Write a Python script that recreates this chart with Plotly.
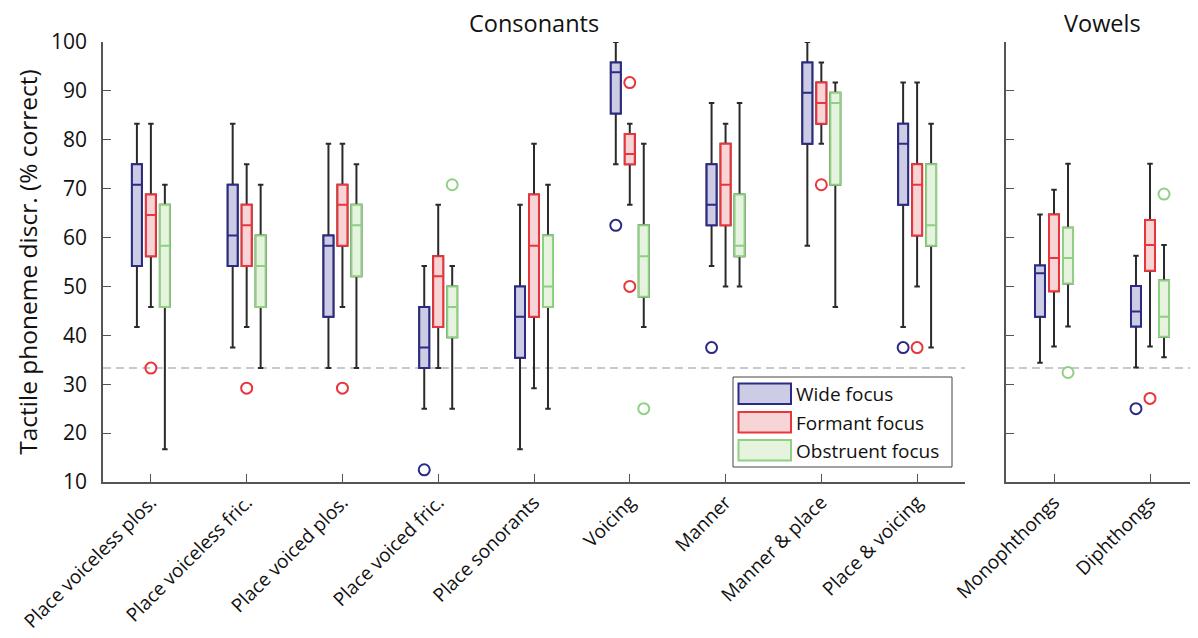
import plotly.graph_objects as go

# ---------------- data ----------------
categories = ["Place voiceless plos.", "Place voiceless fric.", "Place voiced plos.",
              "Place voiced fric.", "Place sonorants", "Voicing", "Manner",
              "Manner & place", "Place & voicing", "Monophthongs", "Diphthongs"]
n_consonants = 9  # first 9 categories are consonants, rest vowels

series_names = ["Wide focus", "Formant focus", "Obstruent focus"]

wide_lo  = [41.7, 37.5, 33.3, 25.0, 16.7, 75.0, 54.2, 58.3, 41.7, 34.4, 33.4]
wide_q1  = [54.2, 54.2, 43.8, 33.3, 35.4, 85.4, 62.5, 79.2, 66.7, 43.8, 41.8]
wide_med = [70.8, 60.4, 58.3, 37.5, 43.8, 93.8, 66.7, 89.6, 79.2, 52.7, 44.9]
wide_q3  = [75.0, 70.8, 60.4, 45.8, 50.0, 95.8, 75.0, 95.8, 83.3, 54.3, 50.1]
wide_hi  = [83.3, 83.3, 79.2, 54.2, 66.7, 100.0, 87.5, 100.0, 91.7, 64.7, 56.3]
wide_out_cat = [3, 5, 6, 8, 10]
wide_out_val = [12.5, 62.5, 37.5, 37.5, 25.0]

form_lo  = [45.8, 41.7, 45.8, 33.3, 29.2, 66.7, 50.0, 79.2, 50.0, 37.7, 37.7]
form_q1  = [56.2, 54.2, 58.3, 41.7, 43.8, 75.0, 62.5, 83.3, 60.4, 49.0, 53.2]
form_med = [64.6, 62.5, 66.7, 52.1, 58.3, 77.1, 70.8, 87.5, 70.8, 55.8, 58.5]
form_q3  = [68.8, 66.7, 70.8, 56.2, 68.8, 81.2, 79.2, 91.7, 75.0, 64.7, 63.6]
form_hi  = [83.3, 75.0, 79.2, 66.7, 79.2, 83.3, 83.3, 95.8, 91.7, 69.8, 75.1]
form_out_cat = [0, 1, 2, 5, 5, 7, 8, 10]
form_out_val = [33.3, 29.2, 29.2, 91.7, 50.0, 70.8, 37.5, 27.1]

obst_lo  = [16.7, 33.3, 33.3, 25.0, 25.0, 41.7, 50.0, 45.8, 37.5, 41.8, 35.5]
obst_q1  = [45.8, 45.8, 52.1, 39.6, 45.8, 47.9, 56.2, 70.8, 58.3, 50.6, 39.7]
obst_med = [58.3, 54.2, 62.5, 45.8, 50.0, 56.2, 58.3, 87.5, 62.5, 55.8, 43.8]
obst_q3  = [66.7, 60.4, 66.7, 50.0, 60.4, 62.5, 68.8, 89.6, 75.0, 62.0, 51.2]
obst_hi  = [70.8, 70.8, 75.0, 54.2, 70.8, 79.2, 87.5, 91.7, 83.3, 75.1, 58.5]
obst_out_cat = [3, 5, 9, 10]
obst_out_val = [70.8, 25.0, 32.4, 68.9]

chance_level = 100.0 / 3.0
y_ticks = [10, 20, 30, 40, 50, 60, 70, 80, 90, 100]

# ---------------- style ----------------
edge_colors = ["#2b2b85", "#e8363c", "#8fd083"]
fill_colors = ["#ccccE4", "#f7d4d5", "#e6f3df"]
whisker_color = "#2a2a2a"
axis_color = "#555555"
FONT = "Open Sans"

OFF = 8  # page body margin in the browser
W, H = 1198 - OFF, 638 - OFF
ML, MR, MT, MB = 103 - OFF, 0, 42 - OFF, 638 - 482
plot_w = W - ML - MR
plot_h = H - MT - MB

def px_x(p):
    """reference-page pixel x -> paper fraction"""
    return (p - OFF - ML) / plot_w

def px_y(p):
    """reference-page pixel y -> paper fraction"""
    return (H - MB - (p - OFF)) / plot_h

dom1 = [0.0, px_x(965)]
dom2 = [px_x(1006), 1.0]

offsets = [-0.146, 0.0, 0.146]
box_w = 0.104

stats = [
    (wide_lo, wide_q1, wide_med, wide_q3, wide_hi, wide_out_cat, wide_out_val),
    (form_lo, form_q1, form_med, form_q3, form_hi, form_out_cat, form_out_val),
    (obst_lo, obst_q1, obst_med, obst_q3, obst_hi, obst_out_cat, obst_out_val),
]

fig = go.Figure()

groups = [(0, n_consonants, "x", "y"), (n_consonants, len(categories), "x2", "y2")]

for gs, ge, xa, ya in groups:
    idx = list(range(gs, ge))
    for s, (lo, q1, med, q3, hi, oc, ov) in enumerate(stats):
        xs = [(i - gs + 1) + offsets[s] for i in idx]
        # whiskers (black) via full box stats
        fig.add_trace(go.Box(
            x=xs, q1=[q1[i] for i in idx], median=[med[i] for i in idx],
            q3=[q3[i] for i in idx], lowerfence=[lo[i] for i in idx],
            upperfence=[hi[i] for i in idx], width=box_w, whiskerwidth=0.55,
            line=dict(color=whisker_color, width=2), fillcolor="rgba(0,0,0,0)",
            boxpoints=False, showlegend=False, xaxis=xa, yaxis=ya,
            name=series_names[s], hoverinfo="skip"))
        # coloured box on top
        fig.add_trace(go.Box(
            x=xs, q1=[q1[i] for i in idx], median=[med[i] for i in idx],
            q3=[q3[i] for i in idx], lowerfence=[q1[i] for i in idx],
            upperfence=[q3[i] for i in idx], width=box_w, whiskerwidth=0,
            line=dict(color=edge_colors[s], width=2), fillcolor=fill_colors[s],
            boxpoints=False, showlegend=False, xaxis=xa, yaxis=ya,
            name=series_names[s]))
        # outliers
        ox = [(c - gs + 1) + offsets[s] for c, v in zip(oc, ov) if gs <= c < ge]
        oy = [v for c, v in zip(oc, ov) if gs <= c < ge]
        fig.add_trace(go.Scatter(
            x=ox, y=oy, mode="markers",
            marker=dict(symbol="circle-open", size=11, color=edge_colors[s],
                        line=dict(width=2, color=edge_colors[s])),
            showlegend=False, xaxis=xa, yaxis=ya, name=series_names[s]))

# chance line
for xa, ya in [("x", "y"), ("x2", "y2")]:
    fig.add_shape(type="line", xref=f"{xa} domain", yref=ya, x0=0, x1=1,
                  y0=chance_level, y1=chance_level, layer="below",
                  line=dict(color="#b5b5cc", width=1.5, dash="8px,5px"))

axis_common = dict(showline=True, linecolor=axis_color, linewidth=1.5,
                   ticks="inside", tickcolor=axis_color, ticklen=8, tickwidth=1,
                   showgrid=False, zeroline=False, mirror=False, automargin=False)

fig.update_layout(
    width=W, height=H, margin=dict(l=ML, r=MR, t=MT, b=MB, autoexpand=False),
    paper_bgcolor="white", plot_bgcolor="white", boxmode="overlay",
    font=dict(family=FONT, color="#111111", size=19),
    showlegend=False,
    xaxis=dict(domain=dom1, range=[0.5, n_consonants + 0.5],
               tickvals=list(range(1, n_consonants + 1)),
               ticktext=categories[:n_consonants], tickangle=-45,
               ticklabeloverflow="allow",
               tickfont=dict(size=19), anchor="y", **axis_common),
    xaxis2=dict(domain=dom2, range=[0.5, len(categories) - n_consonants + 0.5],
                tickvals=list(range(1, len(categories) - n_consonants + 1)),
                ticktext=categories[n_consonants:], tickangle=-45,
                ticklabeloverflow="allow",
                tickfont=dict(size=19), anchor="y2", **axis_common),
    yaxis=dict(range=[10, 100], tickvals=y_ticks, tickfont=dict(size=21),
               ticklabelstandoff=10, anchor="x", ticklabeloverflow="allow",
               title=dict(text="Tactile phoneme discr. (% correct)",
                          font=dict(size=24.5), standoff=6),
               **axis_common),
    yaxis2=dict(range=[10, 100], tickvals=y_ticks, showticklabels=False,
                anchor="x2", matches="y", **axis_common),
)

# titles
fig.add_annotation(text="Consonants", xref="paper", yref="paper",
                   x=(dom1[0] + dom1[1]) / 2, y=px_y(23), showarrow=False,
                   font=dict(size=23.5), xanchor="center", yanchor="middle",
                   borderpad=0)
fig.add_annotation(text="Vowels", xref="paper", yref="paper",
                   x=(dom2[0] + dom2[1]) / 2, y=px_y(23), showarrow=False,
                   font=dict(size=23.5), xanchor="center", yanchor="middle",
                   borderpad=0)

# legend (drawn manually to mimic wide swatches)
fig.add_shape(type="rect", xref="paper", yref="paper",
              x0=px_x(733), x1=px_x(952), y0=px_y(467), y1=px_y(377),
              line=dict(color="#444444", width=1), fillcolor="white", layer="above")
row_tops = [383.5, 412, 440]
for s in range(3):
    t = row_tops[s]
    fig.add_shape(type="rect", xref="paper", yref="paper",
                  x0=px_x(738.5), x1=px_x(791), y0=px_y(t + 20.5), y1=px_y(t),
                  line=dict(color=edge_colors[s], width=2), fillcolor=fill_colors[s],
                  layer="above")
    fig.add_annotation(text=series_names[s], xref="paper", yref="paper",
                       x=px_x(794), y=px_y(t + 10.5), showarrow=False,
                       xanchor="left", yanchor="middle", font=dict(size=19))

fig.write_html("out.html")
